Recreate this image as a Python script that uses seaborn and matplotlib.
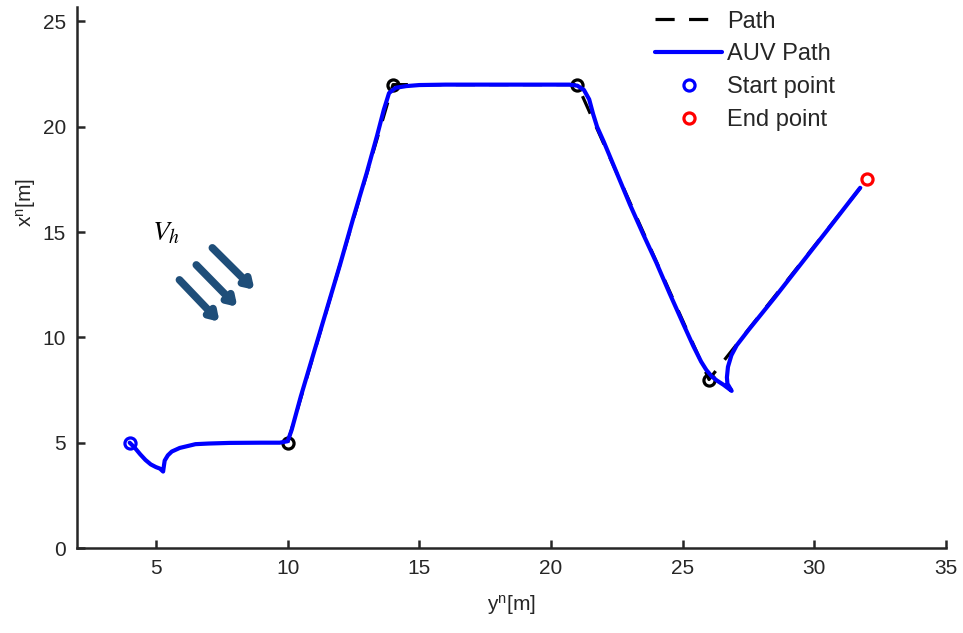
import matplotlib
matplotlib.use("Agg")
import matplotlib.pyplot as plt
import seaborn as sns
import pandas as pd

sns.set_style("ticks")
plt.rcParams["font.family"] = ["Liberation Sans", "DejaVu Sans"]
plt.rcParams["mathtext.fontset"] = "stix"

# Reference path (horizontal axis y^n, vertical axis x^n)
path_yn = [10, 14, 21, 26, 32]
path_xn = [5, 22, 22, 8, 17.5]

# Waypoints marked on the reference path
wp_yn = [10, 14, 21, 26]
wp_xn = [5, 22, 22, 8]

start_yn, start_xn = [4], [5]
end_yn, end_xn = [32], [17.5]

# Tracked AUV trajectory
auv_yn = [4.0, 4.2, 4.4, 4.6, 4.8, 5.0, 5.15, 5.27,
          5.3, 5.33, 5.45, 5.6, 5.9, 6.5, 7.0, 7.8, 9.0, 9.7, 10.0,
          10.15, 10.5, 11.0, 11.5, 12.0, 12.5, 13.0, 13.4, 13.65, 13.85, 14.1, 14.5,
          15.0, 16.0, 18.0, 20.0, 20.7, 21.0, 21.25, 21.45, 21.6, 21.75, 22.0,
          22.5, 23.0, 23.5, 24.0, 24.5, 25.0, 25.4, 25.7, 25.9, 26.1, 26.3, 26.55, 26.86,
          26.7, 26.68, 26.72, 26.85, 27.05, 27.5, 28.5, 29.5, 30.5, 31.74]
auv_xn = [5.0, 4.75, 4.45, 4.18, 3.97, 3.84, 3.77, 3.63,
          3.9, 4.15, 4.4, 4.58, 4.75, 4.93, 4.96, 4.99, 5.0, 5.0, 5.07,
          5.6, 7.2, 9.3, 11.4, 13.5, 15.7, 17.8, 19.6, 20.8, 21.6, 21.85, 21.93,
          21.98, 22.0, 22.0, 22.0, 22.0, 21.95, 21.75, 21.3, 20.6, 20.0, 19.3,
          17.8, 16.3, 14.9, 13.55, 12.1, 10.7, 9.6, 8.85, 8.45, 8.15, 7.95, 7.75, 7.46,
          7.8, 8.1, 8.6, 9.15, 9.62, 10.35, 11.9, 13.5, 15.1, 17.1]

path_df = pd.DataFrame({"yn": path_yn, "xn": path_xn})
auv_df = pd.DataFrame({"yn": auv_yn, "xn": auv_xn})

fig = plt.figure(figsize=(9.63, 6.33), dpi=100)
ax = fig.add_axes([77 / 963, 85 / 633, (946 - 77) / 963, (548 - 6.7) / 633])

sns.lineplot(data=path_df, x="yn", y="xn", sort=False, ax=ax, color="black",
             lw=2.3, linestyle=(0, (6, 4.5)), label="Path", zorder=2)
sns.lineplot(data=auv_df, x="yn", y="xn", sort=False, ax=ax, color="#0000ff",
             lw=3.0, label="AUV Path", zorder=4)
ax.plot(wp_yn, wp_xn, linestyle="none", marker="o", ms=8, mfc="none",
        mec="black", mew=2.3, zorder=3, label="_nolegend_")
ax.plot(start_yn, start_xn, linestyle="none", marker="o", ms=8, mfc="none",
        mec="#0000ff", mew=2.3, zorder=5, label="Start point")
ax.plot(end_yn, end_xn, linestyle="none", marker="o", ms=8, mfc="none",
        mec="#ff0000", mew=2.3, zorder=5, label="End point")

# Current direction indicator
arrow_color = "#1f4e79"
for (y0, x0), (y1, x1) in [((5.89, 12.73), (7.41, 10.74)),
                           ((6.53, 13.44), (8.09, 11.45)),
                           ((7.14, 14.25), (8.74, 12.26))]:
    ax.annotate("", xy=(y1, x1), xytext=(y0, x0),
                arrowprops=dict(arrowstyle="-|>,head_length=0.5,head_width=0.32",
                                lw=5.5, color=arrow_color, shrinkA=0, shrinkB=0))
ax.text(5.4, 14.96, r"$V_h$", fontsize=20, ha="center", va="center", color="black")

ax.set_xlim(2, 35)
ax.set_ylim(0, 25.7)
ax.set_xticks([5, 10, 15, 20, 25, 30, 35])
ax.set_yticks([0, 5, 10, 15, 20, 25])

sns.despine(ax=ax)
for side in ("left", "bottom"):
    ax.spines[side].set_linewidth(1.8)
    ax.spines[side].set_color("#262626")
ax.tick_params(direction="in", length=6, width=1.8, labelsize=15,
               colors="#262626", pad=8)

ax.set_xlabel(r"y$^{\mathregular{n}}$[m]", fontsize=15, color="#262626")
ax.set_ylabel(r"x$^{\mathregular{n}}$[m]", fontsize=15, color="#262626")
ax.yaxis.set_label_coords(-0.045, 0.639)
ax.xaxis.set_label_coords(0.5, -0.085)

leg = ax.legend(loc="upper left", bbox_to_anchor=(655 / 963, 1 - 10.5 / 633),
                bbox_transform=fig.transFigure, frameon=False,
                fontsize=17, handlelength=2.85, handletextpad=0.2,
                labelspacing=0.46, borderaxespad=0, borderpad=0)

fig.savefig("out.png", dpi=100)
